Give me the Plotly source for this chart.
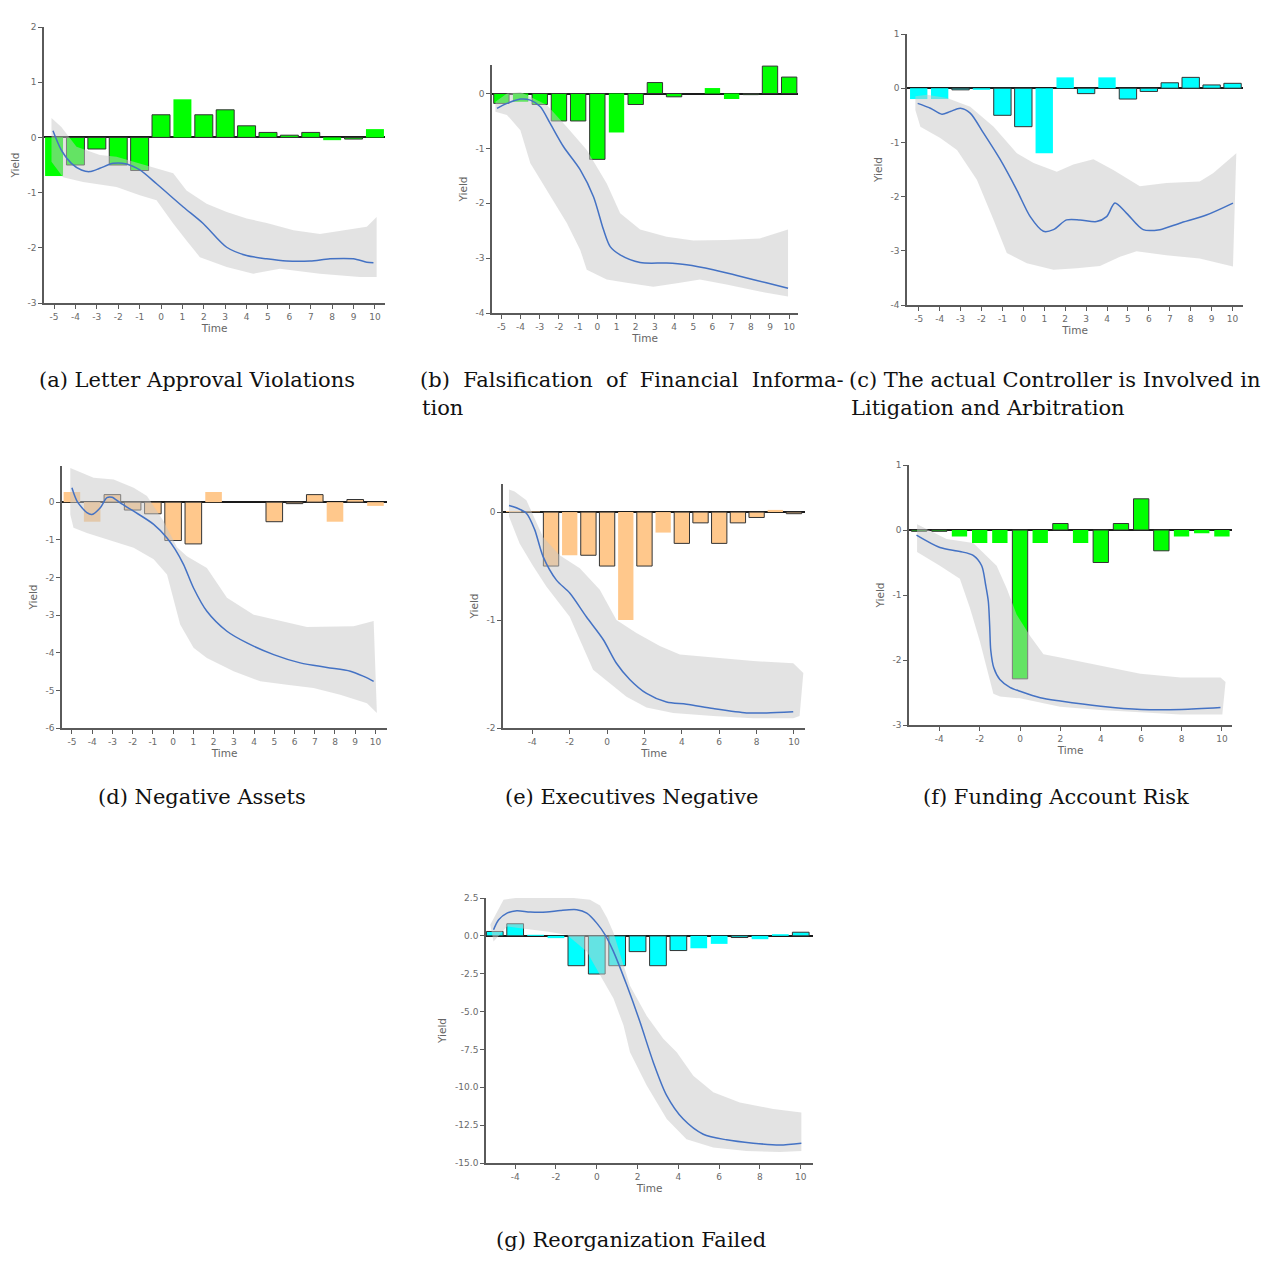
import plotly.graph_objects as go

# page geometry: the browser body has an 8px margin, so the figure is drawn 8px in
PAGE_W, PAGE_H = 1287, 1262
OFF = 8
W, H = PAGE_W - 2 * OFF, PAGE_H - 2 * OFF
TIME = list(range(-5, 11))

# ---------------- data ----------------
A_BARS = [-0.70, -0.50, -0.21, -0.50, -0.60, 0.41, 0.69, 0.41, 0.50, 0.21, 0.09, 0.04, 0.09, -0.05, -0.03, 0.15]
A_LINE_T = [-5.05, -4.66, -4.19, -3.72, -3.33, -2.86, -2.24, -1.61, -0.99, -0.21, 1.04, 1.97, 3.07, 4.0, 4.94, 5.87, 6.97, 7.9, 8.99, 9.62, 9.93]
A_LINE_V = [0.12, -0.23, -0.47, -0.59, -0.62, -0.56, -0.47, -0.48, -0.59, -0.84, -1.26, -1.56, -1.99, -2.14, -2.2, -2.24, -2.24, -2.2, -2.2, -2.26, -2.27]
A_UP_T = [-5.12, -4.66, -3.95, -2.86, -2.08, -0.99, -0.21, 0.57, 1.19, 2.13, 3.07, 4.0, 4.94, 6.19, 7.43, 8.68, 9.62, 10.08]
A_UP_V = [0.35, 0.19, -0.17, -0.32, -0.35, -0.47, -0.56, -0.65, -0.96, -1.2, -1.35, -1.47, -1.55, -1.68, -1.75, -1.68, -1.62, -1.44]
A_LO_T = [-5.12, -4.58, -3.64, -2.08, -0.99, -0.21, 0.57, 1.19, 1.82, 3.07, 4.31, 5.56, 7.43, 9.3, 10.08]
A_LO_V = [-0.44, -0.72, -0.81, -0.9, -1.05, -1.14, -1.56, -1.87, -2.17, -2.35, -2.47, -2.38, -2.47, -2.53, -2.53]

B_BARS = [-0.18, -0.15, -0.2, -0.5, -0.5, -1.2, -0.71, -0.2, 0.2, -0.06, 0.0, 0.1, -0.1, -0.02, 0.5, 0.3]
B_LINE_T = [-5.23, -4.71, -4.01, -3.49, -2.97, -2.45, -1.76, -0.89, -0.2, 0.32, 0.67, 1.19, 2.23, 3.61, 4.65, 6.04, 7.43, 8.81, 9.94]
B_LINE_V = [-0.27, -0.18, -0.10, -0.12, -0.24, -0.55, -0.97, -1.39, -1.88, -2.48, -2.79, -2.94, -3.08, -3.09, -3.12, -3.21, -3.33, -3.45, -3.55]
B_UP_T = [-5.31, -4.71, -4.01, -2.63, -1.59, -0.55, 0.49, 1.19, 2.23, 3.61, 5.0, 6.73, 8.47, 9.94]
B_UP_V = [-0.15, 0.0, 0.03, -0.21, -0.61, -1.03, -1.64, -2.18, -2.48, -2.61, -2.68, -2.67, -2.64, -2.48]
B_LO_T = [-5.31, -4.71, -4.01, -3.49, -2.63, -1.59, -0.89, -0.55, 0.49, 1.53, 2.92, 4.31, 5.35, 6.73, 8.47, 9.94]
B_LO_V = [-0.33, -0.39, -0.67, -1.27, -1.76, -2.36, -2.85, -3.21, -3.39, -3.45, -3.52, -3.45, -3.39, -3.48, -3.61, -3.7]

C_BARS = [-0.2, -0.2, -0.03, -0.03, -0.5, -0.71, -1.2, 0.2, -0.1, 0.2, -0.2, -0.06, 0.1, 0.2, 0.06, 0.09]
C_LINE_T = [-5.05, -4.44, -3.89, -3.49, -3.01, -2.54, -1.9, -1.1, -0.31, 0.33, 0.96, 1.44, 2.07, 2.71, 3.5, 3.98, 4.38, 4.94, 5.73, 6.53, 7.48, 8.75, 10.02]
C_LINE_V = [-0.28, -0.37, -0.48, -0.43, -0.37, -0.46, -0.83, -1.32, -1.88, -2.37, -2.64, -2.61, -2.43, -2.43, -2.46, -2.37, -2.12, -2.31, -2.61, -2.61, -2.49, -2.34, -2.12]
C_UP_T = [-5.16, -4.6, -3.65, -2.54, -1.42, -0.31, 0.49, 1.6, 2.39, 3.35, 4.3, 5.57, 6.84, 8.43, 9.07, 10.18]
C_UP_V = [-0.15, -0.12, -0.18, -0.34, -0.71, -1.2, -1.38, -1.54, -1.41, -1.31, -1.51, -1.81, -1.75, -1.72, -1.57, -1.2]
C_LO_T = [-5.16, -4.92, -3.97, -3.17, -2.22, -1.42, -0.79, 0.17, 1.44, 2.55, 3.66, 4.62, 5.41, 6.84, 8.43, 10.02]
C_LO_V = [-0.4, -0.71, -0.92, -1.14, -1.69, -2.43, -3.04, -3.23, -3.35, -3.32, -3.28, -3.11, -3.01, -3.08, -3.14, -3.29]

D_BARS = [0.27, -0.52, 0.2, -0.21, -0.31, -1.02, -1.11, 0.27, 0.0, 0.0, -0.52, -0.04, 0.2, -0.52, 0.07, -0.1]
D_LINE_T = [-5.0, -4.75, -4.26, -4.01, -3.6, -3.27, -3.02, -2.61, -1.95, -0.96, -0.3, 0.11, 0.52, 1.01, 1.67, 2.66, 3.65, 4.97, 6.28, 7.6, 8.76, 9.42, 9.91]
D_LINE_V = [0.38, 0.03, -0.28, -0.33, -0.15, 0.12, 0.13, -0.02, -0.24, -0.59, -0.95, -1.26, -1.66, -2.28, -2.9, -3.43, -3.74, -4.05, -4.27, -4.39, -4.49, -4.63, -4.76]
D_UP_T = [-5.08, -3.93, -2.94, -1.95, -1.29, -0.47, 0.19, 0.68, 1.67, 2.66, 3.98, 5.3, 6.61, 8.92, 9.91]
D_UP_V = [0.91, 0.65, 0.6, 0.38, 0.16, -0.51, -1.2, -1.44, -1.75, -2.54, -2.99, -3.16, -3.32, -3.3, -3.16]
D_LO_T = [-5.08, -4.92, -4.26, -2.94, -1.95, -0.96, -0.3, 0.35, 1.01, 1.67, 2.99, 4.31, 5.63, 6.94, 8.26, 9.58, 10.07]
D_LO_V = [-0.33, -0.68, -0.82, -1.04, -1.21, -1.52, -1.92, -3.25, -3.87, -4.14, -4.49, -4.76, -4.85, -4.94, -5.12, -5.34, -5.6]

E_BARS = [0.01, 0.005, -0.5, -0.4, -0.4, -0.5, -1.0, -0.5, -0.19, -0.29, -0.1, -0.29, -0.1, -0.05, 0.02, -0.015]
E_LINE_T = [-5.25, -4.86, -4.32, -3.88, -3.43, -2.71, -2.0, -1.11, -0.21, 0.5, 1.21, 2.11, 3.18, 4.25, 5.68, 7.46, 8.54, 9.96]
E_LINE_V = [0.06, 0.04, -0.01, -0.16, -0.41, -0.63, -0.75, -0.97, -1.18, -1.4, -1.55, -1.68, -1.76, -1.78, -1.82, -1.86, -1.86, -1.85]
E_UP_T = [-5.25, -4.95, -4.32, -3.43, -2.54, -1.46, -0.39, 0.5, 1.57, 2.82, 3.89, 5.68, 7.82, 9.96, 10.5]
E_UP_V = [0.21, 0.19, 0.11, -0.23, -0.4, -0.52, -0.72, -1.0, -1.12, -1.24, -1.32, -1.35, -1.38, -1.4, -1.49]
E_LO_T = [-5.25, -4.68, -3.96, -3.25, -2.0, -0.75, 0.14, 1.04, 2.11, 3.54, 5.68, 7.82, 9.96, 10.3]
E_LO_V = [-0.04, -0.29, -0.5, -0.69, -0.97, -1.46, -1.58, -1.71, -1.81, -1.86, -1.89, -1.91, -1.91, -1.89]

F_BARS = [-0.02, -0.02, -0.1, -0.2, -0.2, -2.29, -0.2, 0.1, -0.2, -0.5, 0.1, 0.48, -0.32, -0.1, -0.05, -0.1]
F_LINE_T = [-5.13, -3.97, -2.98, -2.32, -1.9, -1.7, -1.57, -1.5, -1.45, -1.3, -1.0, -0.5, 0, 1, 2, 4, 6, 8, 9.93]
F_LINE_V = [-0.08, -0.27, -0.33, -0.39, -0.55, -0.85, -1.1, -1.5, -1.85, -2.12, -2.3, -2.42, -2.48, -2.58, -2.63, -2.71, -2.76, -2.76, -2.73]
F_UP_T = [-5.1, -3.64, -2.32, -1.16, -0.66, -0.17, 0.5, 1.16, 1.99, 3.97, 5.96, 7.95, 9.93, 10.18]
F_UP_V = [0.09, -0.14, -0.2, -0.55, -0.9, -1.3, -1.63, -1.91, -1.96, -2.09, -2.21, -2.27, -2.27, -2.34]
F_LO_T = [-5.1, -3.97, -2.98, -2.48, -1.99, -1.32, -0.99, 0, 1.99, 3.97, 5.96, 7.95, 10.02]
F_LO_V = [-0.34, -0.55, -0.75, -1.2, -1.71, -2.52, -2.56, -2.59, -2.72, -2.77, -2.81, -2.84, -2.84]

G_BARS = [0.29, 0.8, 0.07, -0.15, -1.97, -2.52, -1.97, -1.04, -1.97, -0.97, -0.82, -0.53, -0.11, -0.22, 0.11, 0.24]
G_LINE_T = [-5.06, -4.81, -4.4, -3.92, -3.26, -2.45, -1.79, -0.98, -0.49, 0, 0.41, 0.82, 1.47, 2.12, 2.77, 3.43, 4.24, 5.22, 6.36, 7.67, 8.97, 10.03]
G_LINE_V = [0.4, 1.06, 1.5, 1.66, 1.57, 1.57, 1.68, 1.73, 1.5, 0.84, 0.07, -1.04, -3.25, -5.69, -8.34, -10.55, -12.1, -13.1, -13.47, -13.69, -13.81, -13.69]
G_UP_T = [-5.22, -4.57, -3.75, -2.45, -1.14, -0.33, 0.16, 0.5, 0.82, 1.14, 1.63, 2.45, 3.26, 3.92, 4.73, 5.71, 7.01, 8.65, 10.03]
G_UP_V = [0.73, 2.39, 2.54, 2.54, 2.5, 2.39, 2.0, 1.2, 0.2, -1.2, -3.3, -5.3, -6.8, -7.68, -9.23, -10.33, -11.0, -11.44, -11.66]
G_LO_T = [-5.06, -4.4, -3.75, -2.45, -1.47, -0.49, 0.16, 0.82, 1.31, 1.63, 2.45, 3.43, 4.4, 5.71, 7.34, 8.97, 10.03]
G_LO_V = [-0.38, 0.62, 0.51, 0.29, 0.07, -1.04, -2.59, -4.14, -5.91, -7.68, -9.89, -12.1, -13.43, -13.98, -14.2, -14.27, -14.2]

# tick labels
X_TICKS_ALL = list(range(-5, 11))
X_TICKS_EVEN = list(range(-4, 11, 2))
A_YTICKS = [-3, -2, -1, 0, 1, 2]
B_YTICKS = [-4, -3, -2, -1, 0]
C_YTICKS = [-4, -3, -2, -1, 0, 1]
D_YTICKS = [-6, -5, -4, -3, -2, -1, 0, 1]
E_YTICKS = [-2, -1, 0]
F_YTICKS = [-3, -2, -1, 0, 1]
G_YTICKS = [-15, -12.5, -10, -7.5, -5, -2.5, 0, 2.5]

CAPTIONS = [
    "(a) Letter Approval Violations",
    "(b)  Falsification  of  Financial  Informa-",
    "tion",
    "(c) The actual Controller is Involved in",
    "Litigation and Arbitration",
    "(d) Negative Assets",
    "(e) Executives Negative",
    "(f) Funding Account Risk",
    "(g) Reorganization Failed",
]

# ---------------- styles / layout ----------------
GREEN = "#00ff00"
CYAN = "#00ffff"
ORANGE = "#ffc88c"
LINE_BLUE = "#4472c4"
BAND = "rgba(200,200,200,0.5)"

# which bars carry a dark edge (style only)
A_EDGE = [0, 1, 1, 1, 1, 1, 0, 1, 1, 1, 1, 1, 1, 0, 1, 0]
B_EDGE = [1, 0, 1, 1, 1, 1, 0, 1, 1, 1, 0, 0, 0, 1, 1, 1]
C_EDGE = [0, 0, 1, 0, 1, 1, 0, 0, 1, 0, 1, 1, 1, 1, 1, 1]
D_EDGE = [0, 0, 1, 1, 1, 1, 1, 0, 0, 0, 1, 1, 1, 0, 1, 0]
E_EDGE = [0, 0, 1, 0, 1, 1, 0, 1, 0, 1, 1, 1, 1, 1, 0, 1]
F_EDGE = [1, 1, 0, 0, 0, 1, 0, 1, 0, 1, 1, 1, 1, 0, 0, 0]
G_EDGE = [1, 1, 0, 0, 1, 1, 1, 1, 1, 1, 0, 0, 1, 0, 0, 1]

panels = [
    dict(bars=A_BARS, edge=A_EDGE, color=GREEN, lt=A_LINE_T, lv=A_LINE_V, ut=A_UP_T, uv=A_UP_V, dt=A_LO_T, dv=A_LO_V,
         box=(44, 385, 27, 303), xr=[-5.47, 10.47], yr=[-3, 2], xt=X_TICKS_ALL, yt=A_YTICKS, fmt="", bw=0.84),
    dict(bars=B_BARS, edge=B_EDGE, color=GREEN, lt=B_LINE_T, lv=B_LINE_V, ut=B_UP_T, uv=B_UP_V, dt=B_LO_T, dv=B_LO_V,
         box=(492, 798, 65, 313), xr=[-5.49, 10.46], yr=[-4, 0.52], xt=X_TICKS_ALL, yt=B_YTICKS, fmt="", bw=0.8),
    dict(bars=C_BARS, edge=C_EDGE, color=CYAN, lt=C_LINE_T, lv=C_LINE_V, ut=C_UP_T, uv=C_UP_V, dt=C_LO_T, dv=C_LO_V,
         box=(907, 1243, 34, 305), xr=[-5.56, 10.5], yr=[-4, 1], xt=X_TICKS_ALL, yt=C_YTICKS, fmt="", bw=0.83),
    dict(bars=D_BARS, edge=D_EDGE, color=ORANGE, lt=D_LINE_T, lv=D_LINE_V, ut=D_UP_T, uv=D_UP_V, dt=D_LO_T, dv=D_LO_V,
         box=(62, 387, 466, 728), xr=[-5.49, 10.57], yr=[-6, 0.96], xt=X_TICKS_ALL, yt=D_YTICKS, fmt="", bw=0.82),
    dict(bars=E_BARS, edge=E_EDGE, color=ORANGE, lt=E_LINE_T, lv=E_LINE_V, ut=E_UP_T, uv=E_UP_V, dt=E_LO_T, dv=E_LO_V,
         box=(503, 805, 484, 728), xr=[-5.57, 10.59], yr=[-2, 0.26], xt=X_TICKS_EVEN, yt=E_YTICKS, fmt="", bw=0.82),
    dict(bars=F_BARS, edge=F_EDGE, color=GREEN, lt=F_LINE_T, lv=F_LINE_V, ut=F_UP_T, uv=F_UP_V, dt=F_LO_T, dv=F_LO_V,
         box=(909, 1232, 465, 725), xr=[-5.5, 10.5], yr=[-3, 1], xt=X_TICKS_EVEN, yt=F_YTICKS, fmt="", bw=0.76),
    dict(bars=G_BARS, edge=G_EDGE, color=CYAN, lt=G_LINE_T, lv=G_LINE_V, ut=G_UP_T, uv=G_UP_V, dt=G_LO_T, dv=G_LO_V,
         box=(486, 813, 898, 1163), xr=[-5.43, 10.6], yr=[-15, 2.5], xt=X_TICKS_EVEN, yt=G_YTICKS, fmt=".1f", bw=0.82),
]


def fx(px):
    return (px - OFF) / W


def fy(py):
    return 1 - (py - OFF) / H


fig = go.Figure()
layout = dict(width=W, height=H, margin=dict(l=0, r=0, t=0, b=0, pad=0),
              paper_bgcolor="white", plot_bgcolor="white", showlegend=False,
              font=dict(family="DejaVu Sans", color="#666"))

AX_COL = "#5a5a5a"
for i, p in enumerate(panels, start=1):
    xa = "x" if i == 1 else f"x{i}"
    ya = "y" if i == 1 else f"y{i}"
    x0, x1, y0, y1 = p["box"]
    fig.add_trace(go.Bar(
        x=TIME, y=p["bars"], xaxis=xa, yaxis=ya, width=p["bw"],
        marker=dict(color=p["color"],
                    line=dict(color=["#333333" if e else "rgba(0,0,0,0)" for e in p["edge"]], width=1.0)),
        hoverinfo="skip"))
    bx = list(p["ut"]) + list(reversed(p["dt"]))
    by = list(p["uv"]) + list(reversed(p["dv"]))
    fig.add_trace(go.Scatter(x=bx, y=by, xaxis=xa, yaxis=ya, mode="lines", fill="toself",
                             fillcolor=BAND, line=dict(width=0, color="rgba(0,0,0,0)"), hoverinfo="skip"))
    fig.add_trace(go.Scatter(x=p["lt"], y=p["lv"], xaxis=xa, yaxis=ya, mode="lines",
                             line=dict(color=LINE_BLUE, width=1.5, shape="spline", smoothing=0.8), hoverinfo="skip"))

    key_x = "xaxis" if i == 1 else f"xaxis{i}"
    key_y = "yaxis" if i == 1 else f"yaxis{i}"
    layout[key_x] = dict(domain=[fx(x0), fx(x1)], anchor=ya, range=p["xr"], showgrid=False, zeroline=False,
                         automargin=False,
                         showline=True, linecolor=AX_COL, linewidth=1.6, ticks="outside", ticklen=4,
                         tickcolor=AX_COL, tickwidth=1.4, tickvals=p["xt"], ticktext=[str(v) for v in p["xt"]],
                         tickfont=dict(size=9, color="#6a6a6a"),
                         title=dict(text="Time", font=dict(size=10.5, color="#666"), standoff=4))
    layout[key_y] = dict(domain=[fy(y1), fy(y0)], anchor=xa, range=p["yr"], showgrid=False,
                         automargin=False,
                         zeroline=True, zerolinecolor="#1a1a1a", zerolinewidth=1.6,
                         showline=True, linecolor=AX_COL, linewidth=1.6, ticks="outside", ticklen=4,
                         tickcolor=AX_COL, tickwidth=1.4, tickvals=p["yt"],
                         ticktext=[(format(v, p["fmt"]) if p["fmt"] else str(v)) for v in p["yt"]],
                         tickfont=dict(size=9, color="#6a6a6a"),
                         title=dict(text="Yield", font=dict(size=10.5, color="#666"), standoff=6))

fig.update_layout(**layout)

CAP_POS = [(37, 380), (418, 380), (420, 408), (847, 380), (849, 408),
           (96, 797), (503, 797), (921, 797), (494, 1240)]
for text, (px, py) in zip(CAPTIONS, CAP_POS):
    fig.add_annotation(text=text, xref="paper", yref="paper", x=fx(px), y=fy(py),
                       xanchor="left", yanchor="middle", showarrow=False,
                       font=dict(family="DejaVu Serif", size=21, color="#111"))

fig.write_html("out.html")
